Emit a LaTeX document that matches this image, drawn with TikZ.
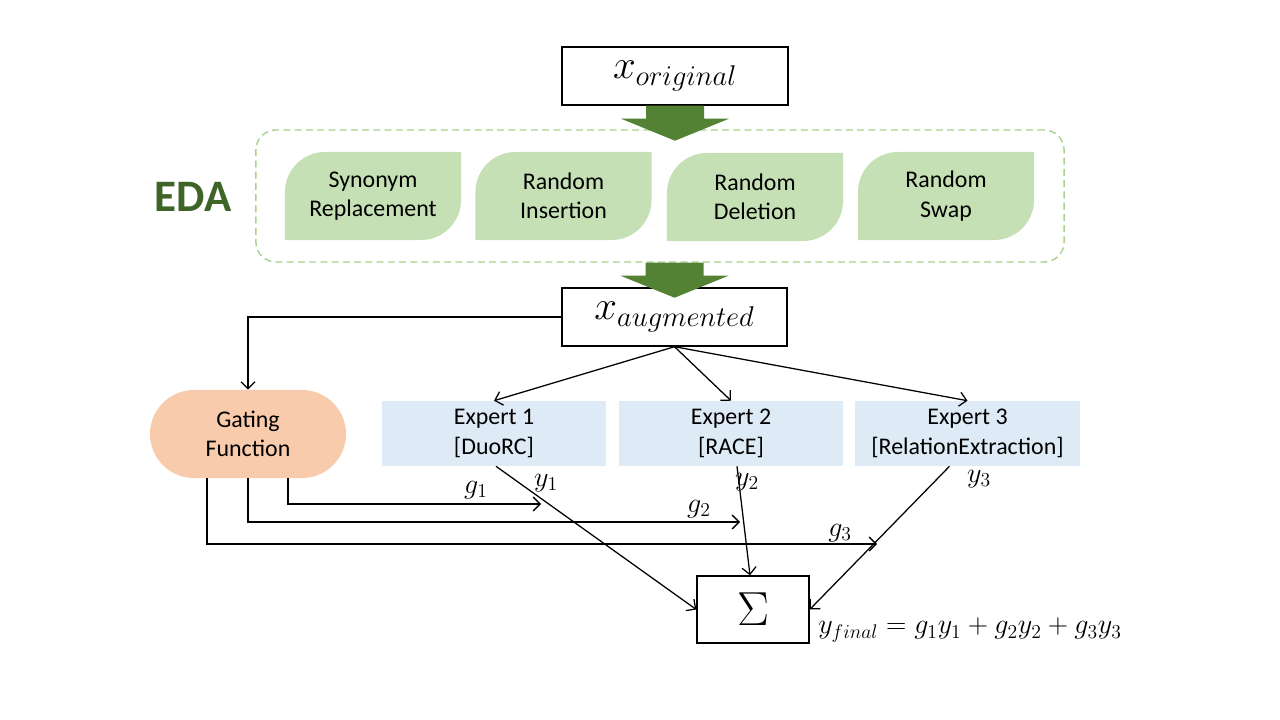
\RequirePackage{fix-cm}
\documentclass[tikz,border=0pt]{standalone}
\usepackage{fontspec}
\setmainfont{Carlito}
\usepackage{amsmath}
\usetikzlibrary{arrows.meta,calc}
\definecolor{arrowgreen}{HTML}{548235}
\definecolor{edagreen}{HTML}{3F6428}
\definecolor{leafgreen}{HTML}{C5E0B4}
\definecolor{dashgreen}{HTML}{A9D18E}
\definecolor{gateorange}{HTML}{F8CBAD}
\definecolor{expertblue}{HTML}{DEEBF7}
\tikzset{
    box/.style={draw,line width=1pt,inner sep=0pt},
    leaf/.style={minimum width=4.4cm,minimum height=2.2cm,inner sep=0pt,align=center,
        font=\fontsize{17}{21}\selectfont,
        path picture={\fill[leafgreen] (path picture bounding box.north east)
            -- ($(path picture bounding box.south east)+(0,1cm)$) arc[start angle=0,end angle=-90,radius=1cm]
            -- (path picture bounding box.south west)
            -- ($(path picture bounding box.north west)+(0,-1cm)$) arc[start angle=180,end angle=90,radius=1cm]
            -- cycle;}},
    expert/.style={fill=expertblue,minimum width=5.6cm,minimum height=1.625cm,inner sep=0pt,align=center,
        font=\fontsize{17}{21}\selectfont},
    edge/.style={->,> = {Straight Barb[length=5pt,width=10pt]},line width=0.9pt},
    lbl/.style={font=\fontsize{20}{24}\selectfont,inner sep=0pt}
}
% block arrow hanging below a point
\newcommand{\blockarrow}[1]{\fill[arrowgreen] (#1) ++(-29,0) -- ++(0,13) -- ++(-25,0) -- ++(54,22) -- ++(54,-22) -- ++(-25,0) -- ++(0,-13) -- cycle;}

\begin{document}
\begin{tikzpicture}[x=0.025cm,y=-0.025cm]
\useasboundingbox (0,0) rectangle (1280,720);

% EDA part
\node[box,minimum width=5.65cm,minimum height=1.45cm,font=\fontsize{29}{34}\selectfont] (orig) at (675,76) {$x_{original}$};
\node[draw=dashgreen,line width=1pt,dash pattern=on 5pt off 3pt,rounded corners=0.5cm,
      minimum width=20.2cm,minimum height=3.3cm] (edabox) at (660,196) {};
\node[font=\fontsize{32}{38}\selectfont\bfseries,text=edagreen] (eda) at (193,197) {EDA};
\node[leaf] (syn) at (373,196) {Synonym\\Replacement};
\node[leaf] (ins) at (563.5,196) {Random\\Insertion};
\node[leaf] (del) at (755,197) {Random\\Deletion};
\node[leaf] (swap) at (946,196) {Random\\Swap};
\blockarrow{orig.south}
\node[box,minimum width=5.63cm,minimum height=1.45cm,font=\fontsize{29}{34}\selectfont] (aug) at (674.5,317) {$x_{augmented}$};
\blockarrow{edabox.south -| aug.north}

% mixture of experts
\node[fill=gateorange,rounded corners=1.1cm,minimum width=4.9cm,minimum height=2.2cm,inner sep=0pt,
      align=center,font=\fontsize{17}{21}\selectfont] (gate) at (248,434) {Gating\\Function};
\node[expert] (e1) at (494,433.5) {Expert 1\\{}[DuoRC]};
\node[expert] (e2) at (731,433.5) {Expert 2\\{}[RACE]};
\node[expert] (e3) at (967.5,433.5) {Expert 3\\{}[RelationExtraction]};
\node[box,minimum width=2.8cm,minimum height=1.675cm,font=\fontsize{34}{40}\selectfont] (sum) at (753,609.5) {$\Sigma$};

\coordinate (g1end) at (541,504);
\coordinate (g2end) at (740,522);
\coordinate (g3end) at (877,544);

\draw[edge] (aug.west) -| (gate.north);
\draw[edge] (aug.south) -- (e1.north);
\draw[edge] (aug.south) -- (e2.north);
\draw[edge] (aug.south) -- (e3.north);

\draw[edge] ([xshift=1cm]gate.south) |- (g1end);
\draw[edge] (gate.south) |- (g2end);
\draw[edge] ([xshift=-1.025cm]gate.south) |- (g3end);

\draw[edge] ([xshift=0.05cm]e1.south) -- (sum.west);
\draw[edge] ([xshift=0.15cm]e2.south) -- ([xshift=-0.075cm]sum.north);
\draw[edge] ([xshift=-0.45cm]e3.south) -- (sum.east);

\node[lbl] (g1) at (476,490) {$g_1$};
\node[lbl] (g2) at (699,509) {$g_2$};
\node[lbl] (g3) at (840,533) {$g_3$};
\node[lbl] (y1) at (546,483) {$y_1$};
\node[lbl] (y2) at (747,482) {$y_2$};
\node[lbl] (y3) at (979,479) {$y_3$};
\node[lbl,anchor=west] (final) at (818,630) {$y_{final} = g_1y_1 + g_2y_2 + g_3y_3$};

\end{tikzpicture}
\end{document}
